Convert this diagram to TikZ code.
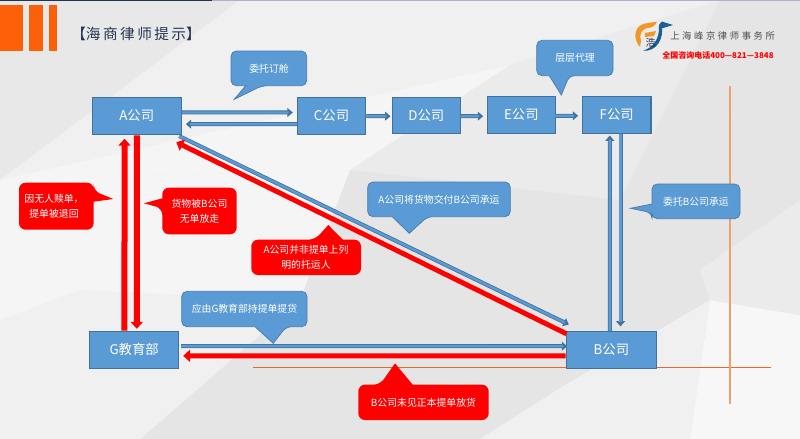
\documentclass[tikz,border=0pt]{standalone}
\usepackage{fontspec}
\setmainfont{Noto Sans CJK SC}
\definecolor{BoxBlue}{RGB}{91, 155, 213}
\definecolor{RimBlue}{RGB}{65, 113, 156}
\definecolor{AlarmRed}{RGB}{255, 0, 0}
\definecolor{BarOrange}{RGB}{252, 97, 10}
\definecolor{RuleOrange}{RGB}{226, 106, 44}
\definecolor{PaleOrange}{RGB}{240, 160, 110}
\definecolor{TitleNavy}{RGB}{38, 52, 84}
\definecolor{LogoBlue}{RGB}{24, 96, 150}
\definecolor{LogoAmber}{RGB}{243, 150, 40}
\usetikzlibrary{arrows.meta, positioning, calc}
\tikzset{
  firm/.style={draw=RimBlue, fill=BoxBlue, line width=0.8pt, text=white, font=\fontsize{10}{12}\selectfont, inner sep=0pt, anchor=north west},
  bluetip/.style={draw=RimBlue!70!BoxBlue, fill=BoxBlue, line width=0.6pt},
  redtip/.style={fill=AlarmRed},
  tiptext/.style={text=white, font=\fontsize{7.4}{11}\selectfont, align=center, inner sep=0pt},
  flow/.style={draw=RimBlue, line width=3pt, -{Triangle[length=4pt,width=6.5pt]}, postaction={draw=BoxBlue, line width=1.8pt, -{Triangle[length=0.1pt,width=0.1pt]}, shorten >=3pt}},
  back/.style={draw=AlarmRed, line width=3.7pt, -{Triangle[length=5.2pt,width=9pt]}},
}
\begin{document}
\begin{tikzpicture}[x=0.75pt, y=-0.75pt]
\useasboundingbox (0,0) rectangle (800,439);
% background facets
\fill[black!7] (0,0) rectangle (800,439);
\fill[black!9] (0,0) -- (240,0) -- (0,180) -- cycle;
\fill[black!6] (240,0) -- (720,0) -- (510,65) -- (0,180) -- cycle;
\fill[black!4] (510,65) -- (350,170) -- (0,180) -- cycle;
\fill[black!8] (510,65) -- (720,0) -- (620,200) -- (350,170) -- cycle;
\fill[black!10] (720,0) -- (800,0) -- (800,110) -- (730,135) -- cycle;
\fill[black!10] (620,200) -- (720,0) -- (730,135) -- (800,110) -- (800,200) -- (700,270) -- cycle;
\fill[black!10] (350,170) -- (620,200) -- (700,270) -- (710,300) -- (565,385) -- (480,439) -- (140,439) -- (300,300) -- cycle;
\fill[black!4] (0,180) -- (350,170) -- (300,300) -- (140,439) -- (0,439) -- cycle;
\fill[black!6] (0,320) -- (80,290) -- (300,300) -- (140,439) -- (0,439) -- cycle;
\fill[black!3] (710,300) -- (800,315) -- (800,439) -- (690,439) -- cycle;
\fill[black!6] (565,385) -- (710,300) -- (690,439) -- (480,439) -- cycle;
\fill[black!8] (700,270) -- (800,200) -- (800,315) -- (710,300) -- cycle;
% top edge
\fill[TitleNavy] (0,0) rectangle (212,1.5);
\fill[blue!25!gray!50] (212,0) rectangle (800,1.5);
% orange bars
\fill[BarOrange] (0,5) rectangle (23,51);
\fill[BarOrange] (29,5) rectangle (43,51);
\fill[BarOrange] (49,5) rectangle (57,51);
\node[text=TitleNavy, anchor=west, inner sep=0pt, font=\fontsize{11}{13}\selectfont] (title) at (71,34) {【海\,商\,律\,师\,提\,示】};
% logo
\fill[LogoAmber] (640,47) .. controls (632,38) and (634,24) .. (648,23) -- (657,21.7) .. controls (655,26) and (652,28) .. (647,28) .. controls (641,29) and (639,36) .. (641,41) -- cycle;
\fill[LogoAmber] (645,33) -- (656,31) -- (654,36) -- (645,37) -- cycle;
\fill[LogoBlue] (661.7,21.5) -- (673,25) -- (661.7,28.5) -- (661.7,26) .. controls (664,38) and (657,52) .. (643,50.7) .. controls (652,48) and (660,40) .. (659,25) -- cycle;
\node[text=TitleNavy, inner sep=0pt, font=\fontsize{7.5}{9}\selectfont] (logomark) at (650.5,42.5) {浩};
\node[text=black!70, anchor=west, inner sep=0pt, font=\fontsize{7}{9}\selectfont] (firmname) at (670,36) {上\;海\;峰\;京\;律\;师\;事\;务\;所};
\node[text=AlarmRed, anchor=west, inner sep=0pt, font=\fontsize{6}{8}\selectfont\bfseries] (hotline) at (662,55) {全国咨询电话400—821—3848};
% rules
\coordinate (hleft) at (253,367.3);
\coordinate (hright) at (770.7,367.3);
\coordinate (vtop) at (730,86);
\coordinate (vbot) at (730,404.3);
\draw[RuleOrange, line width=0.7pt] (hleft) -- (hright);
\draw[PaleOrange, line width=0.8pt] (vtop) -- (vbot);
% companies
\node[firm, minimum width=67.1pt, minimum height=28.4pt] (a) at (91.5,96.5) {A公司};
\node[firm, minimum width=51.3pt, minimum height=27.7pt] (c) at (296.8,96.8) {C公司};
\node[firm, minimum width=51.5pt, minimum height=27.5pt] (d) at (391.5,96.5) {D公司};
\node[firm, minimum width=51.5pt, minimum height=28.2pt] (e) at (486.5,95.5) {E公司};
\node[firm, minimum width=51.5pt, minimum height=27.7pt] (f) at (581.8,96) {F公司};
\node[firm, minimum width=67.2pt, minimum height=28.2pt] (g) at (88.8,330.5) {G教育部};
\node[firm, minimum width=68pt, minimum height=28pt] (b) at (565.5,330.8) {B公司};
% blue flows
\draw[flow] ($(a.east)+(0,-3.5)$) -- ($(c.west)+(-4,-3.3)$);
\draw[flow] ($(c.west)+(0,8.4)$) -- ($(a.east)+(3.8,8.2)$);
\draw[flow] ($(c.east)+(0,0.4)$) -- ($(d.west)+(-1,0.85)$);
\draw[flow] ($(d.east)+(-0.5,0.85)$) -- ($(e.west)+(-3.3,1.35)$);
\draw[flow] ($(e.east)+(-1,1)$) -- ($(f.west)+(-3.6,0.8)$);
\draw[flow] ($(b.north)+(-1.55,0)$) -- ($(f.south)+(-6.85,1.5)$);
\draw[flow] ($(f.south)+(3.85,0)$) -- ($(b.north)+(9.15,-4.3)$);
\draw[flow] ($(a.south east)+(-2.8,0.7)$) -- ($(b.north west)+(3.3,-6.3)$);
\draw[flow] ($(g.east)+(1.7,-3.65)$) -- ($(b.west)+(1.7,-3.8)$);
% red flows
\draw[back] ($(b.north west)+(1,3)$) -- ($(a.south east)+(-5.8,6.7)$);
\draw[back] ($(b.west)+(0,5.8)$) -- ($(g.east)+(3.7,6)$);
\draw[back, line width=4.5pt] ($(g.north)+(-9.65,0)$) -- ($(a.south)+(-12.25,3.3)$);
\draw[back, line width=4.5pt] (a.south) -- ($(g.north)+(2.65,-1.7)$);
% callouts
\draw[bluetip, rounded corners=4pt] (231,51) -- (306.7,51) -- (306.7,85.7) -- (262,85.7) [sharp corners] -- (234.3,99.3) -- (245.7,85.7) [rounded corners=4pt] -- (231,85.7) -- cycle;
\node[tiptext] (hire) at (269,68.5) {委托订舱};
\draw[bluetip, rounded corners=4pt] (536.7,40.3) -- (613,40.3) -- (613,75.7) -- (569.3,75.7) [sharp corners] -- (561.3,95) -- (549.3,75.7) [rounded corners=4pt] -- (536.7,75.7) -- cycle;
\node[tiptext] (agent) at (575,57.5) {层层代理};
\fill[redtip, rounded corners=5pt] (19,182.7) -- (93.7,182.7) -- (93.7,191) [sharp corners] -- (113.3,199) -- (93.7,201.7) [rounded corners=5pt] -- (93.7,229.7) -- (19,229.7) -- cycle;
\node[tiptext] (returned) at (54,206) {因无人赎单，\\提单被退回};
\fill[redtip, rounded corners=5pt] (162.3,187.7) -- (236.7,187.7) -- (236.7,234.3) -- (162.3,234.3) -- (162.3,208.3) [sharp corners] -- (144,203.3) -- (162.3,198.3) [rounded corners=5pt] -- cycle;
\node[tiptext] (loss) at (199.5,211) {货物被B公司\\无单放走};
\fill[redtip, rounded corners=5pt] (251.3,239.7) -- (315,239.7) [sharp corners] -- (328.3,225) -- (342.7,239.7) [rounded corners=5pt] -- (361,239.7) -- (361,275) -- (251.3,275) -- cycle;
\node[tiptext] (shipper) at (306,257.5) {A公司并非提单上列\\明的托运人};
\draw[bluetip, rounded corners=4pt] (367.7,182) -- (510.3,182) -- (510.3,216.7) -- (427.3,216.7) [sharp corners] -- (409.3,233.3) -- (392.3,216.7) [rounded corners=4pt] -- (367.7,216.7) -- cycle;
\node[tiptext] (handover) at (439,199.5) {A公司将货物交付B公司承运};
\draw[bluetip, rounded corners=4pt] (652,184) -- (740,184) -- (740,218.7) -- (652,218.7) -- (652,212.7) [sharp corners] -- (630.7,208.3) -- (652,204) [rounded corners=4pt] -- cycle;
\node[tiptext] (carry) at (696,201.5) {委托B公司承运};
\draw[bluetip, rounded corners=4pt] (181.7,291.3) -- (307,291.3) -- (307,326.7) -- (286,326.7) [sharp corners] -- (273.3,343.3) -- (255,326.7) [rounded corners=4pt] -- (181.7,326.7) -- cycle;
\node[tiptext] (holder) at (244.5,309) {应由G教育部持提单提货};
\fill[redtip, rounded corners=5pt] (358.3,384.7) -- (380,384.7) [sharp corners] -- (395,363.3) -- (412.7,384.7) [rounded corners=5pt] -- (488.7,384.7) -- (488.7,420) -- (358.3,420) -- cycle;
\node[tiptext] (release) at (423.5,402.5) {B公司未见正本提单放货};
\end{tikzpicture}
\end{document}
